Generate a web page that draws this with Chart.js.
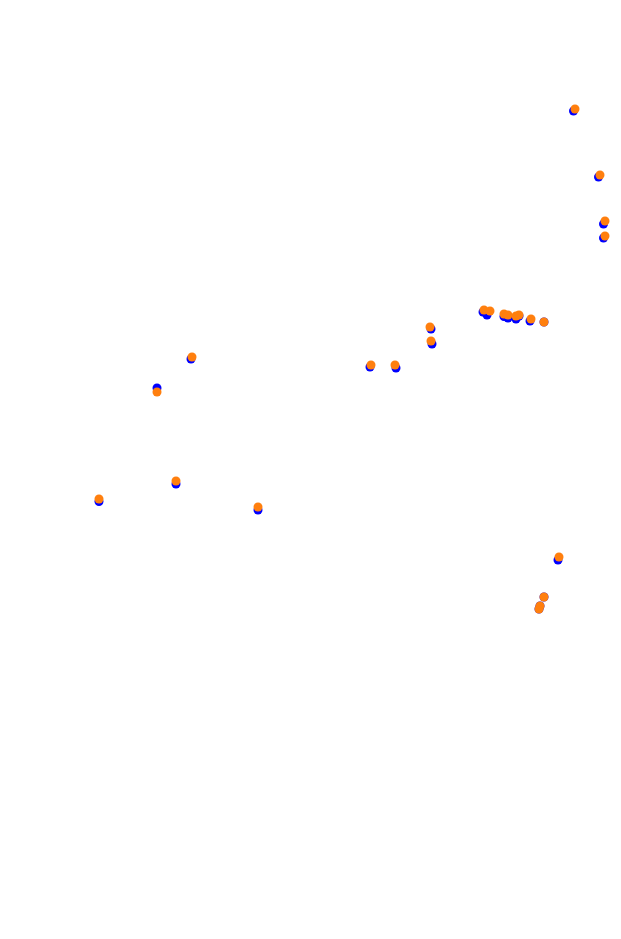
<!DOCTYPE html>
<html>
<head>
<meta charset="utf-8">
<script src="https://cdn.jsdelivr.net/npm/chart.js@4"></script>
<style>
  html, body { margin: 0; padding: 0; background: #fff; }
  #myChart { display: block; }
</style>
</head>
<body>
<canvas id="myChart" width="621" height="939"></canvas>
<script>
// positions (x to the right, y downwards)
var orangeX = [575, 600, 605, 605, 484, 490, 504, 508, 516, 519, 531, 544, 430, 431, 371, 395, 192, 157, 176, 99, 258, 559, 544, 540, 539];
var orangeY = [109, 175, 221, 236, 310, 311, 314, 315, 316, 315, 319, 322, 327, 341, 365, 365, 357, 392, 481, 499, 507, 557, 597, 606, 609];
var blueX = [573.5, 598.5, 603.5, 603.5, 483, 487, 504, 508, 516, 519, 530, 544, 431, 432, 370, 396, 191, 157, 176, 99, 258, 558, 544, 540, 539];
var blueY = [111, 177, 224, 238, 312, 315, 316.5, 318, 319, 316, 321, 322, 329, 344, 367, 368, 359, 388, 484, 501.5, 510, 560, 597, 606, 609];

function toPoints(xs, ys) {
  return xs.map(function(x, i) { return { x: x, y: ys[i] }; });
}

var ctx = document.getElementById('myChart').getContext('2d');
var myChart = new Chart(ctx, {
  type: 'scatter',
  data: {
    datasets: [{
      label: 'orange',
      data: toPoints(orangeX, orangeY),
      backgroundColor: '#ff7f0e',
      borderWidth: 0,
      pointRadius: 4.5
    }, {
      label: 'blue',
      data: toPoints(blueX, blueY),
      backgroundColor: '#0000ff',
      borderWidth: 0,
      pointRadius: 4.5
    }]
  },
  options: {
    responsive: false,
    animation: false,
    layout: { padding: 0, autoPadding: false },
    plugins: {
      legend: { display: false },
      tooltip: { enabled: false }
    },
    scales: {
      x: { type: 'linear', min: 0, max: 621, display: false },
      y: { type: 'linear', min: 0, max: 939, reverse: true, display: false }
    },
    clip: false
  }
});
</script>
</body>
</html>
